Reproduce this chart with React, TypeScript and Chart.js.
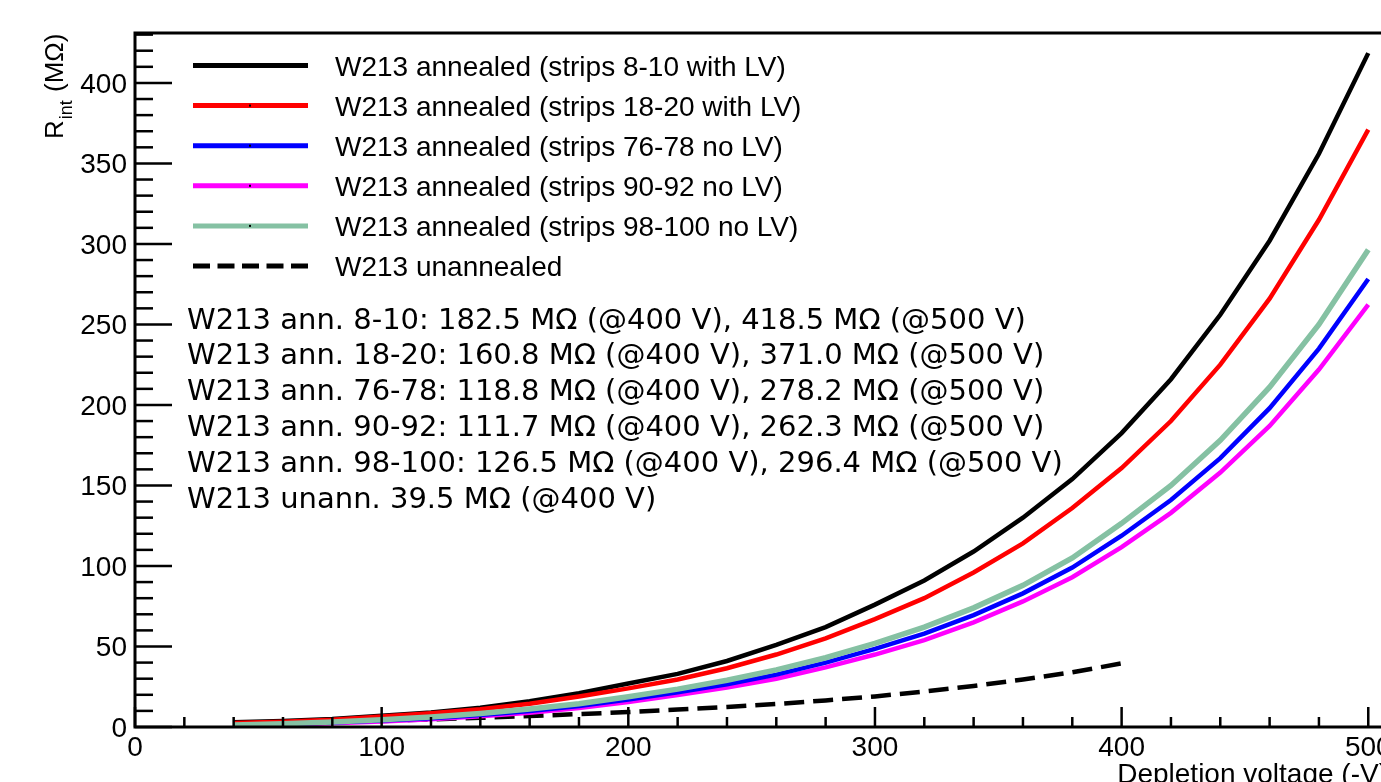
import React, { useEffect, useRef } from "react";
import { Chart, registerables } from "chart.js";

Chart.register(...registerables);

// ---------- data ----------
const voltages = [40, 60, 80, 100, 120, 140, 160, 180, 200, 220, 240, 260, 280, 300, 320, 340, 360, 380, 400, 420, 440, 460, 480, 500];
const unannVoltages = [40, 60, 80, 100, 120, 140, 160, 180, 200, 220, 240, 260, 280, 300, 320, 340, 360, 380, 400];

const ann_8_10 = [3, 3.8, 5, 7, 9, 12, 16, 21, 27, 33, 41, 51, 62, 76, 91, 109, 130, 154, 182.5, 216, 256, 302, 356, 418.5];
const ann_18_20 = [2.5, 3.2, 4.5, 6.5, 8.5, 11, 14.5, 19, 24, 29.5, 36.5, 45, 55, 67, 80, 96, 114, 136, 160.8, 190, 225, 266, 315, 371.0];
const ann_76_78 = [1, 1.8, 2.8, 4, 5.5, 7.5, 10, 13, 17, 21.5, 26.5, 32.5, 40, 48.5, 58, 69.5, 83, 99, 118.8, 141, 167, 198, 235, 278.2];
const ann_90_92 = [0.7, 1.4, 2.3, 3.4, 4.8, 6.6, 8.9, 11.8, 15.5, 19.8, 24.5, 30, 37, 45, 54, 65, 78, 93, 111.7, 133, 158, 187, 222, 262.3];
const ann_98_100 = [1.2, 2, 3.1, 4.5, 6.2, 8.4, 11.2, 14.5, 18.8, 23.5, 29, 35.5, 43, 52, 62, 74, 88, 105, 126.5, 150, 178, 211, 250, 296.4];
const unannealed = [2, 2.4, 3, 3.8, 4.7, 5.7, 6.8, 8, 9.3, 10.8, 12.4, 14.3, 16.5, 19, 22, 25.5, 29.5, 34, 39.5];

const seriesLabels = [
  "W213 annealed (strips 8-10 with LV)",
  "W213 annealed (strips 18-20 with LV)",
  "W213 annealed (strips 76-78 no LV)",
  "W213 annealed (strips 90-92 no LV)",
  "W213 annealed (strips 98-100 no LV)",
  "W213 unannealed",
];
const seriesColors = ["#000000", "#ff0000", "#0000ff", "#ff00ff", "#85c1a3", "#000000"];

const summaryLines = [
  "W213 ann. 8-10: 182.5 MΩ (@400 V), 418.5 MΩ (@500 V)",
  "W213 ann. 18-20: 160.8 MΩ (@400 V), 371.0 MΩ (@500 V)",
  "W213 ann. 76-78: 118.8 MΩ (@400 V), 278.2 MΩ (@500 V)",
  "W213 ann. 90-92: 111.7 MΩ (@400 V), 262.3 MΩ (@500 V)",
  "W213 ann. 98-100: 126.5 MΩ (@400 V), 296.4 MΩ (@500 V)",
  "W213 unann. 39.5 MΩ (@400 V)",
];

const xMajorTicks = [0, 100, 200, 300, 400, 500];
const xMinorStep = 20;
const yMajorTicks = [0, 50, 100, 150, 200, 250, 300, 350, 400];
const yMinorStep = 10;
const xTitle = "Depletion voltage (-V)";

const X_MIN = 0;
const X_MAX = 508;
const Y_MIN = 0;
const Y_MAX = 431;

const CANVAS_W = 1440;
const CANVAS_H = 782;

const HELV = "Liberation Sans, Arial, Helvetica, sans-serif";
const DEJA = "DejaVu Sans, sans-serif";

const rootStylePlugin = {
  id: "rootStyle",
  afterDatasetsDraw(chart: any) {
    const ctx: CanvasRenderingContext2D = chart.ctx;
    const area = chart.chartArea;
    const xs = chart.scales.x;
    const ys = chart.scales.y;
    ctx.save();

    // frame
    ctx.strokeStyle = "#000";
    ctx.lineWidth = 3;
    ctx.beginPath();
    ctx.moveTo(area.left, area.bottom);
    ctx.lineTo(area.left, area.top);
    ctx.lineTo(area.right, area.top);
    ctx.lineTo(area.right, area.bottom);
    ctx.closePath();
    ctx.stroke();

    // x ticks
    ctx.lineWidth = 2.5;
    for (let v = X_MIN; v <= X_MAX; v += xMinorStep) {
      const px = xs.getPixelForValue(v);
      const major = xMajorTicks.includes(v);
      const len = major ? 20 : 10;
      ctx.beginPath();
      ctx.moveTo(px, area.bottom);
      ctx.lineTo(px, area.bottom - len);
      ctx.stroke();
    }
    // y ticks
    for (let v = Y_MIN; v <= Y_MAX; v += yMinorStep) {
      const py = ys.getPixelForValue(v);
      const major = yMajorTicks.includes(v);
      const len = major ? 37 : 18;
      ctx.beginPath();
      ctx.moveTo(area.left, py);
      ctx.lineTo(area.left + len, py);
      ctx.stroke();
    }

    // tick labels
    ctx.fillStyle = "#000";
    ctx.font = `28px ${HELV}`;
    ctx.textBaseline = "alphabetic";
    ctx.textAlign = "center";
    for (const v of xMajorTicks) {
      ctx.fillText(String(v), xs.getPixelForValue(v), area.bottom + 29);
    }
    ctx.textAlign = "right";
    for (const v of yMajorTicks) {
      ctx.fillText(String(v), area.left - 8, ys.getPixelForValue(v) + 10);
    }

    // x title (right aligned at axis end)
    ctx.textAlign = "right";
    ctx.font = `28px ${HELV}`;
    ctx.fillText(xTitle, area.right, area.bottom + 56);

    // y title: R_int (MΩ)
    ctx.save();
    ctx.translate(63, 139);
    ctx.rotate(-Math.PI / 2);
    ctx.textAlign = "left";
    ctx.font = `26px ${HELV}`;
    ctx.fillText("R", 0, 0);
    const wR = ctx.measureText("R").width;
    ctx.font = `18px ${HELV}`;
    ctx.fillText("int", wR + 1, 9);
    const wI = ctx.measureText("int").width;
    ctx.font = `26px ${HELV}`;
    ctx.fillText(" (MΩ)", wR + 2 + wI, 0);
    ctx.restore();

    // legend
    const legX0 = 193;
    const legX1 = 308;
    const legTextX = 335;
    const legY0 = 65.5;
    const legStep = 40.1;
    ctx.textAlign = "left";
    ctx.font = `28px ${HELV}`;
    seriesLabels.forEach((label, i) => {
      const cy = legY0 + i * legStep;
      ctx.save();
      ctx.strokeStyle = seriesColors[i];
      ctx.lineWidth = 5;
      if (i === 5) ctx.setLineDash([17, 7.5]);
      ctx.beginPath();
      ctx.moveTo(legX0, cy);
      ctx.lineTo(legX1, cy);
      ctx.stroke();
      ctx.restore();
      if (i > 0 && i < 5) {
        ctx.fillStyle = "#000";
        ctx.fillRect(249, cy - 1, 2, 2);
      }
      ctx.fillStyle = "#000";
      ctx.fillText(label, legTextX, cy + 10);
    });

    // summary text
    ctx.font = `29px ${DEJA}`;
    summaryLines.forEach((line, i) => {
      ctx.fillText(line, 187, 328.5 + i * 35.8);
    });

    ctx.restore();
  },
};

export default function App() {
  const canvasRef = useRef<HTMLCanvasElement | null>(null);

  useEffect(() => {
    const canvas = canvasRef.current;
    if (!canvas) return;
    const mk = (xv: number[], yv: number[]) => xv.map((x, i) => ({ x, y: yv[i] }));
    const allSeries = [ann_8_10, ann_18_20, ann_76_78, ann_90_92, ann_98_100];
    const widths = [4.5, 4.5, 4.5, 4.5, 5.5];
    const datasets: any[] = allSeries.map((s, i) => ({
      label: seriesLabels[i],
      data: mk(voltages, s),
      borderColor: seriesColors[i],
      backgroundColor: seriesColors[i],
      borderWidth: widths[i],
      pointRadius: 0,
      tension: 0,
      fill: false,
    }));
    // draw order similar to ROOT: green below blue/magenta
    const ordered = [datasets[4], datasets[2], datasets[3], datasets[1], datasets[0]];
    ordered.push({
      label: seriesLabels[5],
      data: mk(unannVoltages, unannealed),
      borderColor: "#000",
      borderWidth: 4.5,
      borderDash: [20, 9],
      pointRadius: 0,
      tension: 0,
      fill: false,
    });

    const chart = new Chart(canvas, {
      type: "line",
      data: { datasets: ordered },
      options: {
        animation: false,
        responsive: false,
        devicePixelRatio: 1,
        layout: {
          padding: { left: 135, top: 33, right: CANVAS_W - 1388, bottom: CANVAS_H - 727 },
        },
        scales: {
          x: { type: "linear", min: X_MIN, max: X_MAX, display: false },
          y: { type: "linear", min: Y_MIN, max: Y_MAX, display: false },
        },
        plugins: {
          legend: { display: false },
          tooltip: { enabled: false },
        },
      },
      plugins: [rootStylePlugin],
    });
    return () => chart.destroy();
  }, []);

  return (
    <div
      style={{
        position: "fixed",
        left: 0,
        top: 0,
        width: 1381,
        height: 782,
        overflow: "hidden",
        background: "#fff",
      }}
    >
      <canvas
        ref={canvasRef}
        width={CANVAS_W}
        height={CANVAS_H}
        style={{ display: "block", width: CANVAS_W, height: CANVAS_H }}
      />
    </div>
  );
}
